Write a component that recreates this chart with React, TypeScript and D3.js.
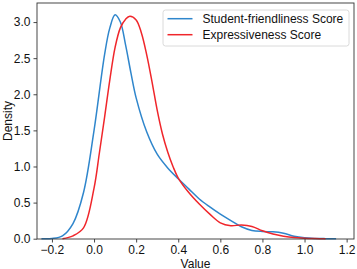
import React, { useEffect, useRef } from "react";
import * as d3 from "d3";

// x grid for each density curve
const blueX = [-0.25, -0.2, -0.15, -0.1, -0.05, 0, 0.05, 0.075, 0.1, 0.125, 0.15, 0.175, 0.2, 0.25, 0.3, 0.35, 0.4, 0.45, 0.5, 0.55, 0.6, 0.65, 0.7, 0.75, 0.8, 0.85, 0.9, 0.95, 1.0, 1.05, 1.1, 1.15];
const blueY = [0, 0.003, 0.04, 0.21, 0.64, 1.5, 2.55, 2.92, 3.1, 3.0, 2.68, 2.3, 1.95, 1.48, 1.17, 0.98, 0.83, 0.69, 0.55, 0.44, 0.34, 0.25, 0.165, 0.115, 0.1, 0.095, 0.075, 0.035, 0.013, 0.004, 0.001, 0];

const redX = [-0.15, -0.1, -0.05, 0, 0.025, 0.05, 0.075, 0.1, 0.125, 0.15, 0.17, 0.2, 0.225, 0.25, 0.275, 0.3, 0.325, 0.35, 0.375, 0.4, 0.45, 0.5, 0.55, 0.6, 0.65, 0.7, 0.75, 0.8, 0.85, 0.9, 0.95, 1.0, 1.05, 1.1];
const redY = [0, 0.04, 0.15, 0.7, 1.18, 1.68, 2.2, 2.65, 2.92, 3.04, 3.08, 3.03, 2.85, 2.55, 2.18, 1.78, 1.45, 1.2, 1.0, 0.84, 0.64, 0.48, 0.34, 0.22, 0.18, 0.19, 0.17, 0.11, 0.065, 0.035, 0.015, 0.006, 0.002, 0];

const seriesNames = ["Student-friendliness Score", "Expressiveness Score"];
const seriesColors = ["#2f86cc", "#f0262b"];

const xTicks = [-0.2, 0, 0.2, 0.4, 0.6, 0.8, 1.0, 1.2];
const yTicks = [0, 0.5, 1.0, 1.5, 2.0, 2.5, 3.0];

function App() {
  const ref = useRef<SVGSVGElement>(null);

  useEffect(() => {
    const width = 357;
    const height = 269;
    const margin = { top: 3, left: 37, bottom: 30, right: 3 };
    const font = "'Liberation Sans', Arial, Helvetica, sans-serif";

    const svg = d3.select(ref.current);
    svg.selectAll("*").remove();

    const x = d3.scaleLinear()
      .domain([-0.271, 1.235])
      .range([margin.left, width - margin.right]);
    const y = d3.scaleLinear()
      .domain([0, 3.264])
      .range([height - margin.bottom - 0.3, margin.top]);

    const fmt = (d: number) => d3.format(".1f")(d).replace("-", "\u2212");

    const xAxis = (g: any) => g
      .attr("transform", `translate(0, ${height - margin.bottom})`)
      .call(d3.axisBottom(x).tickValues(xTicks).tickFormat(fmt as any).tickSize(3.5).tickPadding(3).tickSizeOuter(0))
      .call((g: any) => g.select(".domain").remove());

    const yAxis = (g: any) => g
      .attr("transform", `translate(${margin.left}, 0)`)
      .call(d3.axisLeft(y).tickValues(yTicks).tickFormat(fmt as any).tickSize(3.5).tickPadding(3).tickSizeOuter(0))
      .call((g: any) => g.select(".domain").remove());

    for (const ax of [svg.append("g").call(xAxis), svg.append("g").call(yAxis)]) {
      ax.selectAll("text").attr("font-family", font).attr("font-size", 12).attr("fill", "#111");
      ax.selectAll("line").attr("stroke", "#333").attr("stroke-width", 0.9);
    }

    const series = [
      blueX.map((v, i) => [v, blueY[i]] as [number, number]),
      redX.map((v, i) => [v, redY[i]] as [number, number]),
    ];

    const line = d3.line<[number, number]>()
      .x(d => x(d[0]))
      .y(d => Math.min(y(d[1]), y(0)))
      .curve(d3.curveCatmullRom.alpha(0.5));

    svg.append("g")
      .selectAll("path")
      .data(series)
      .enter()
      .append("path")
      .attr("d", d => line(d))
      .attr("fill", "none")
      .attr("stroke", (_, i) => seriesColors[i])
      .attr("stroke-width", 1.5);

    // frame
    svg.append("rect")
      .attr("x", margin.left)
      .attr("y", margin.top)
      .attr("width", width - margin.left - margin.right)
      .attr("height", height - margin.top - margin.bottom)
      .attr("fill", "none")
      .attr("stroke", "#333")
      .attr("stroke-width", 0.9);

    // legend
    const lg = svg.append("g").attr("transform", "translate(163, 10)");
    lg.append("rect")
      .attr("width", 186)
      .attr("height", 36)
      .attr("rx", 2.5)
      .attr("fill", "white")
      .attr("fill-opacity", 0.8)
      .attr("stroke", "#d6d6d6")
      .attr("stroke-width", 0.9);
    seriesNames.forEach((name, i) => {
      const yy = 8.7 + i * 16;
      lg.append("line")
        .attr("x1", 4.5).attr("x2", 29.5)
        .attr("y1", yy).attr("y2", yy)
        .attr("stroke", seriesColors[i])
        .attr("stroke-width", 1.5);
      lg.append("text")
        .attr("x", 39.5)
        .attr("y", yy + 4.2)
        .attr("font-family", font)
        .attr("font-size", 12)
        .attr("fill", "#111")
        .text(name);
    });

    svg.append("text")
      .attr("x", (margin.left + width - margin.right) / 2)
      .attr("y", 267.5)
      .attr("text-anchor", "middle")
      .attr("font-family", font)
      .attr("font-size", 12)
      .attr("fill", "#111")
      .text("Value");

    svg.append("text")
      .attr("transform", `translate(12, ${(margin.top + height - margin.bottom) / 2}) rotate(-90)`)
      .attr("text-anchor", "middle")
      .attr("font-family", font)
      .attr("font-size", 12)
      .attr("fill", "#111")
      .text("Density");
  }, []);

  return (
    <div style={{ position: "absolute", left: 0, top: 0 }}>
      <svg ref={ref} width={357} height={269} style={{ display: "block" }} />
    </div>
  );
}

export default App;
